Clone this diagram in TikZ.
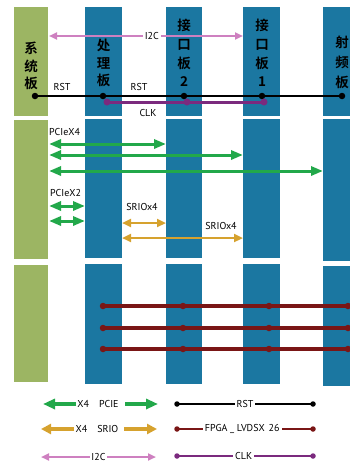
\documentclass[tikz,border=0pt]{standalone}
\usepackage{fontspec}
\setmainfont{PT Sans}
\newfontfamily\cjkfont{Noto Sans CJK SC}[BoldFont={Noto Sans CJK SC Bold}]
\usetikzlibrary{arrows.meta}

\definecolor{sysgreen}{HTML}{9CB563}
\definecolor{procblue}{HTML}{1B77A1}
\definecolor{pciegreen}{HTML}{22A84A}
\definecolor{sriogold}{HTML}{D6A22E}
\definecolor{iicpink}{HTML}{CE80C0}
\definecolor{clkpurple}{HTML}{7B2A7E}
\definecolor{lvdsred}{HTML}{7A1616}

\tikzset{
  cjk/.style={font=\cjkfont\bfseries\fontsize{13.5}{17.5}\selectfont, align=center, inner sep=0pt},
  lbl/.style={font=\fontsize{10}{10}\selectfont, inner sep=1pt},
  pcie/.style={draw=pciegreen, line width=3pt, {Triangle[length=12pt,width=9pt]}-{Triangle[length=12pt,width=9pt]}},
  srio/.style={draw=sriogold, line width=2.8pt, {Triangle[length=9pt,width=8pt]}-{Triangle[length=9pt,width=8pt]}},
  iic/.style={draw=iicpink, line width=2.2pt, {Triangle[length=8pt,width=7pt]}-{Triangle[length=8pt,width=7pt]}},
  rst/.style={draw=black, line width=1.6pt},
  clk/.style={draw=clkpurple, line width=3pt},
  lvds/.style={draw=lvdsred, line width=3.4pt},
  dot/.style={circle, inner sep=0pt, minimum size=#1},
}

\begin{document}
\begin{tikzpicture}[x=1pt,y=-1pt]
\useasboundingbox (0,0) rectangle (350,463);

% Boards
\foreach \ya/\yb in {7/116, 120/259, 265/382}
  \fill[sysgreen] (14,\ya) rectangle (48,\yb);
\foreach \xa/\xb in {85/122, 166/202, 243/280}
  \foreach \ya/\yb in {7/116, 119/258, 264/384}
    \fill[procblue] (\xa,\ya) rectangle (\xb,\yb);
\foreach \ya/\yb in {7/116, 119/261, 266/386}
  \fill[procblue] (323,\ya) rectangle (362,\yb);

% Board names
\node[cjk] (sysname)  at (31,66)  {系\\统\\板};
\node[cjk] (procname) at (103.5,63) {处\\理\\板};
\node[cjk, font=\cjkfont\bfseries\fontsize{13.5}{18.6}\selectfont] (if2name) at (184,53) {接\\口\\板\\2};
\node[cjk, font=\cjkfont\bfseries\fontsize{13.5}{18.6}\selectfont] (if1name) at (262,53) {接\\口\\板\\1};
\node[cjk, font=\cjkfont\bfseries\fontsize{13.5}{20}\selectfont] (rfname) at (342,62) {射\\频\\板};

% I2C
\coordinate (iicL) at (49,36);
\coordinate (iicR) at (243,36);
\draw[iic] (iicL) -- (iicR) node[pos=0.53, lbl, fill=white, inner sep=2pt] {I2C};

% RST and CLK
\foreach \n/\x in {sys/35, proc/103, if2/184, if1/262, rf/342}
  \node[dot=6.5pt, fill=black] (rst\n) at (\x,96) {};
\draw[rst] (rstsys.center) -- (rstrf.center);
\node[lbl, anchor=south] (rstA) at (62,92) {RST};
\node[lbl, anchor=south] (rstB) at (139,92) {RST};
\foreach \n/\x in {proc/107, if2/187, if1/264}
  \node[dot=7pt, fill=clkpurple] (clk\n) at (\x,102) {};
\draw[clk] (clkproc.center) -- (clkif1.center);
\node[lbl] (clkname) at (148,113) {CLK};

% PCIe
\node[lbl, anchor=west] (pcie4) at (48,132) {PCIeX4};
\draw[pcie] (49,144) -- (166,144);
\draw[pcie] (49,155) -- (243,155);
\draw[pcie] (49,171) -- (323,171);
\node[lbl, anchor=west] (pcie2) at (49,193) {PCIeX2};
\draw[pcie] (49,206) -- (85,206);
\draw[pcie] (49,221) -- (85,221);

% SRIO
\node[lbl] (srioA) at (142,207) {SRIOx4};
\draw[srio] (122,223) -- (166,223);
\node[lbl] (srioB) at (221,226) {SRIOx4};
\draw[srio] (122,238) -- (243,238);

% FPGA LVDS
\foreach \y/\k in {306/a, 328/b, 349/c} {
  \foreach \n/\x in {proc/103, if2/183, if1/269, rf/348}
    \node[dot=6.5pt, fill=lvdsred] (lv\k\n) at (\x,\y) {};
  \draw[lvds] (lv\k proc.center) -- (lv\k rf.center);
}

% Legend
\node[lbl, inner sep=0pt] (legpcie) at (98,404) {X4\hspace{1em}PCIE};
\draw[pcie, line width=4pt, -{Triangle[length=12pt,width=10pt]}] ([xshift=-1pt]legpcie.west) -- (43,404);
\draw[pcie, line width=4pt, {Triangle[length=12pt,width=10pt]}-] (158,404) -- ([xshift=6pt]legpcie.east);
\node[lbl, inner sep=0pt] (legsrio) at (97,429) {X4\hspace{1em}SRIO};
\draw[srio, line width=4pt, -{Triangle[length=10pt,width=10pt]}] ([xshift=-1pt]legsrio.west) -- (41,429);
\draw[srio, line width=4pt, {Triangle[length=10pt,width=10pt]}-] (157,429) -- ([xshift=5pt]legsrio.east);
\coordinate (legiicL) at (41,457);
\coordinate (legiicR) at (156,457);
\draw[iic] (legiicL) -- (legiicR) node[pos=0.5, lbl, fill=white, inner sep=1pt] {I2C};

\node[dot=5.5pt, fill=black] (legrstL) at (177,404) {};
\node[dot=5.5pt, fill=black] (legrstR) at (313,404) {};
\draw[rst] (legrstL.center) -- (legrstR.center) node[pos=0.5, lbl, fill=white, inner sep=2pt] {RST};
\node[dot=5.5pt, fill=lvdsred] (leglvL) at (177,429) {};
\node[dot=5.5pt, fill=lvdsred] (leglvR) at (313,429) {};
\draw[lvds, line width=2.4pt] (leglvL.center) -- (leglvR.center) node[pos=0.48, lbl, fill=white, inner sep=2pt] {FPGA \_ LVDSX\hspace{0.4em}26};
\node[dot=5.5pt, fill=clkpurple] (legclkL) at (177,456) {};
\node[dot=5.5pt, fill=clkpurple] (legclkR) at (313,456) {};
\draw[clk, line width=2.4pt] (legclkL.center) -- (legclkR.center) node[pos=0.49, lbl, fill=white, inner sep=2pt] {CLK};
\end{tikzpicture}
\end{document}
